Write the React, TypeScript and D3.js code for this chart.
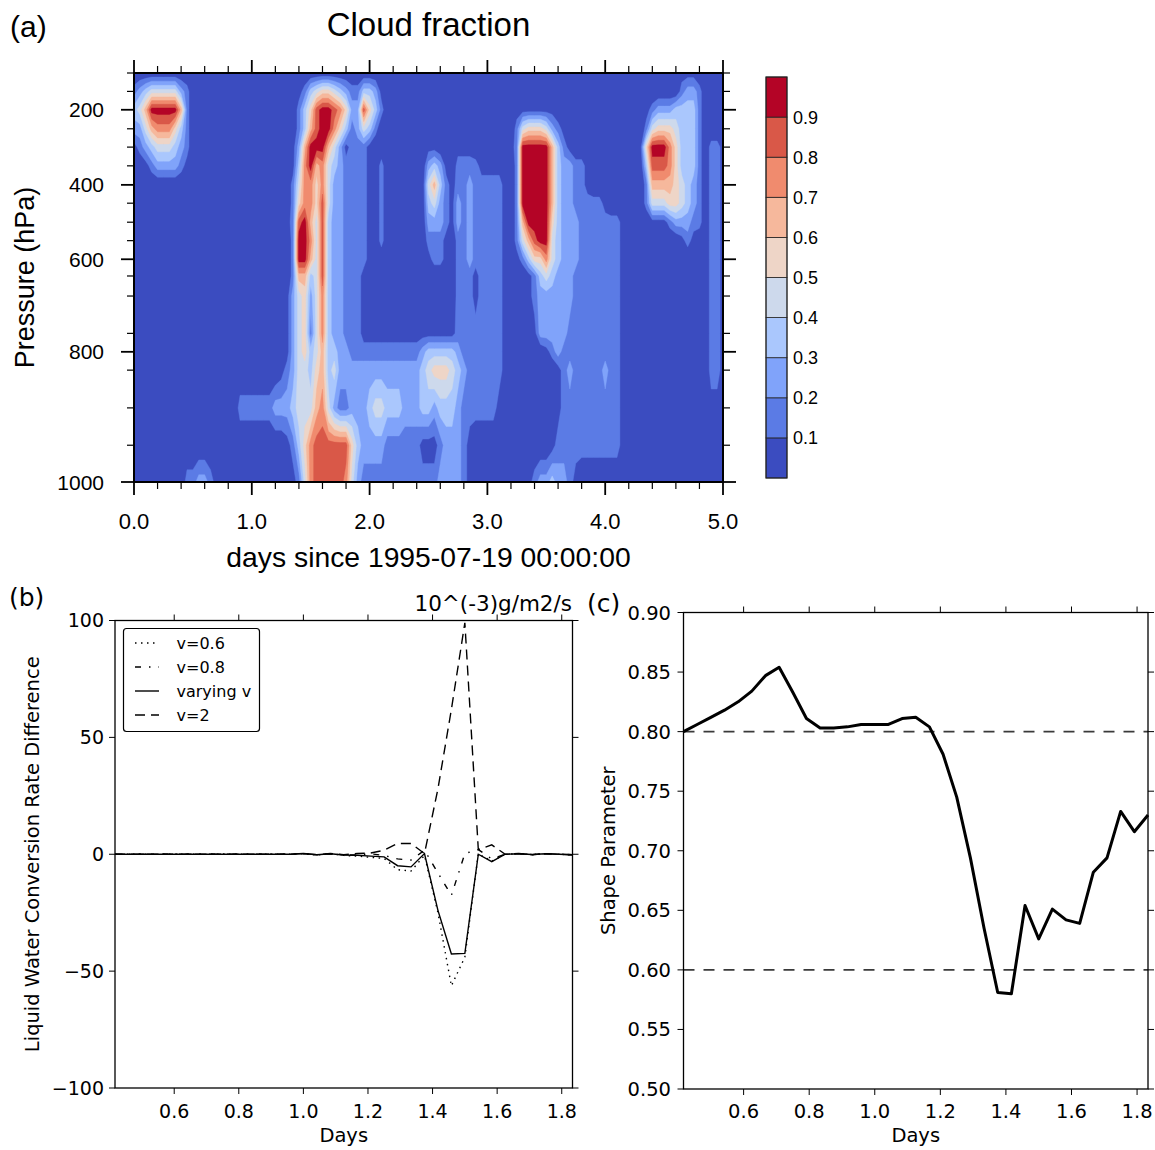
import React from "react";
import * as d3 from "d3";

// ================= Panel (a): cloud fraction contour data =================
const pressureLevels = [100, 150, 200, 250, 300, 350, 400, 450, 500, 550, 600, 650, 700, 750, 800, 850, 900, 950, 1000];
// relative position of each pressure level along the (model-level) vertical axis: 0 = top, 1 = bottom
const pressureAxisFraction = [0, 0.045, 0.0899, 0.1364, 0.1812, 0.227, 0.2735, 0.3183, 0.3648, 0.4099, 0.4554, 0.4963, 0.5453, 0.6366, 0.6817, 0.7265, 0.8188, 0.9101, 1];
const pressureMajorTicks = [200, 400, 600, 800, 1000];
const dayMajorTicks = [0, 1, 2, 3, 4, 5];
const dayMinorTicks = [0.2, 0.4, 0.6, 0.8, 1.2, 1.4, 1.6, 1.8, 2.2, 2.4, 2.6, 2.8, 3.2, 3.4, 3.6, 3.8, 4.2, 4.4, 4.6, 4.8];
const gridStartDay = 0;
const gridStepDay = 0.05;
// one row per pressure level (top = 100 hPa), one char per 0.05 day; '.' = 0, digit d = d/10 + 0.05
const cloudRows = [
  ".......... .......... .......... .......... .......... .......... .......... .......... .......... ...000.... .",
  "1234444421 .......... ........01 3455432113 320....... .......... .......... .......... .......... ...1221... .",
  "3469999961 .......... ........13 5899875228 531....... .......... .....00000 00........ .......012 2233331... .",
  "2246777531 .......... ........13 6899753124 31........ .......... .....14555 4210...... .......145 5543331... .",
  "0123444321 .......... .......026 9996420111 0......... 00...000.. ....019999 96310..... ......0599 9753331.11 0",
  "..01222210 .......... .......037 9674321111 0.1....... 2320.11110 000..19999 96322110.. .......388 8753331.11 0",
  ".......... .......... .......147 7574221111 0.1....... 4631011211 1110.19999 96322110.. .......166 6654321.11 0",
  ".......... .......... .......157 7584221111 0.1....... 3421021211 1110.19999 9632211111 0......144 4554321.11 0",
  ".......... .......... ......0189 6483221111 0.1....... 2221021211 1110.16999 9532221111 1110....00 0122211.11 0",
  ".......... .......... .......199 7483221111 0.1....... 1110.11211 1110.14689 9432221111 1110...... ...010..11 0",
  ".......... .......... .......199 6483221111 0......... 0110.11211 1110.01355 7432221111 1110...... ........11 0",
  ".......... .......... .......166 3483221110 .......... .....11101 1110...013 4322211111 1110...... ........11 0",
  ".......... .......... ......0245 2473221110 .......... .....11101 1110...012 2222211111 1110...... ........11 0",
  ".......... .......... ......0245 1473221110 0000000000 0000011111 1110...002 2222111111 1110...... ........11 0",
  ".......... .......... ......0245 3463322111 1111111112 3333321111 1110...... 0121111111 1110...... ........11 0",
  ".......... .......... .....01244 3563422222 2222222223 4555432111 1110...... ..01211111 2110...... ........11 0",
  ".......... ........11 1111222344 4674211222 3443332223 3233321111 110....... ..01111111 1110...... ........00 .",
  ".......... .......... ......0135 7888888532 2221111110 00122210.. .......... .011111111 1110...... .......... .",
  ".........1 12210..... .......014 7888887421 1111111111 11222210.. .......012 232210.... .......... .......... .",
];
const cloudLevels = [0.1, 0.2, 0.3, 0.4, 0.5, 0.6, 0.7, 0.8, 0.9];
const cloudColors = ["#3b4cc0", "#5b7be5", "#80a3fa", "#aac7fd", "#cdd9ec", "#eed5c7", "#f6b89c", "#f08b6e", "#d95848", "#b40426"];
const cloudLevelLabels = ["0.1", "0.2", "0.3", "0.4", "0.5", "0.6", "0.7", "0.8", "0.9"];

// ================= Panel (b): conversion rate difference =================
const hoursB = [10, 11, 12, 13, 14, 15, 16, 17, 18, 19, 20, 21, 22, 23, 24, 25, 26, 27, 28, 29, 30, 31, 32, 33, 34, 35, 36, 37, 38, 39, 40, 41, 42, 43, 44];
const rateV06 = [0, 0, 0, 0, 0, 0, 0, 0, 0, 0, 0, 0, 0, 0, 0.2, -0.3, 0.3, -0.5, -0.8, -1.3, -1.8, -6.6, -7.2, -0.5, -25, -56.3, -44, 0.2, -3, 0, 0.3, -0.2, 0.2, 0, -0.3];
const rateV08 = [0, 0, 0, 0, 0, 0, 0, 0, 0, 0, 0, 0, 0, 0, 0.2, -0.2, 0.2, -0.3, -0.3, 0.2, -0.5, -2, -2.5, 1.7, -8, -17.6, 0.3, 2, -2, 0, 0.2, -0.1, 0.2, 0, -0.2];
const rateVarying = [0, 0, 0, 0, 0, 0, 0, 0, 0, 0, 0, 0, 0, 0, 0.3, -0.2, 0.2, -0.3, -0.4, -0.8, -1.1, -4.9, -5.4, 0.3, -24, -42.7, -42.4, 0, -3.2, 0, 0.2, -0.1, 0.2, 0, -0.2];
const rateV2 = [0, 0, 0, 0, 0, 0, 0, 0, 0, 0, 0, 0, 0, 0, 0.3, -0.2, 0.3, -0.2, 0.3, 0.5, 1.7, 4.6, 4.6, 0.3, 28, 62, 99, 2, 4, 0, 0.3, -0.2, 0.3, 0, -0.2];
const rateTicks = [-100, -50, 0, 50, 100];
const rateTickLabels = ["\u2212100", "\u221250", "0", "50", "100"];
const daysTicks = [0.6, 0.8, 1.0, 1.2, 1.4, 1.6, 1.8];
const legendLabels = ["v=0.6", "v=0.8", "varying v", "v=2"];

// ================= Panel (c): shape parameter =================
const shapeParam = [0.8, 0.806, 0.812, 0.818, 0.825, 0.834, 0.847, 0.854, 0.833, 0.811, 0.803, 0.803, 0.804, 0.806, 0.806, 0.806, 0.811, 0.812, 0.804, 0.781, 0.745, 0.694, 0.635, 0.581, 0.58, 0.654, 0.626, 0.651, 0.642, 0.639, 0.682, 0.694, 0.733, 0.716, 0.73];
const shapeRefLines = [0.8, 0.6];
const shapeTicks = [0.5, 0.55, 0.6, 0.65, 0.7, 0.75, 0.8, 0.85, 0.9];

const NCL_FONT = "'Liberation Sans', Arial, Helvetica, sans-serif";
const MPL_FONT = "'DejaVu Sans', Verdana, sans-serif";

const codeToValue = (c: string) => (c === "." ? 0 : Number(c) / 10 + 0.05);

function PanelA() {
  const L = 134, R = 723, T = 73, B = 482;
  const rows = cloudRows.map((r) => r.replace(/\s+/g, ""));
  const nRows = rows.length;
  const nCols = d3.max(rows, (r) => r.length) as number;
  const values: number[] = [];
  rows.forEach((r) => {
    for (let i = 0; i < nCols; i++) values.push(codeToValue(r[i] || "."));
  });
  const x = d3.scaleLinear().domain([0, 5]).range([L, R]);
  const y = d3.scaleLinear().domain(pressureLevels).range(pressureAxisFraction.map((f) => T + f * (B - T)));
  const rowToP = d3.scaleLinear().domain(d3.range(nRows)).range(pressureLevels);
  const clamp = (v: number, lo: number, hi: number) => Math.max(lo, Math.min(hi, v));
  const proj = d3.geoTransform({
    point(px: number, py: number) {
      const c = clamp(px - 0.5, 0, nCols - 1);
      const r = clamp(py - 0.5, 0, nRows - 1);
      (this as any).stream.point(x(gridStartDay + c * gridStepDay), y(rowToP(r)));
    },
  });
  const path = d3.geoPath(proj as any);
  const bands = d3.contours().size([nCols, nRows]).thresholds(cloudLevels)(values);

  // colorbar
  const cbX = 766, cbW = 21, cbT = 77, cbB = 478;
  const cbH = (cbB - cbT) / cloudColors.length;

  return (
    <g fontFamily={NCL_FONT}>
      <defs>
        <clipPath id="clipA">
          <rect x={L} y={T} width={R - L} height={B - T} />
        </clipPath>
      </defs>
      <text x={10} y={37} fontSize={30}>(a)</text>
      <text x={(L + R) / 2} y={36} fontSize={33} textAnchor="middle">Cloud fraction</text>
      <g clipPath="url(#clipA)">
        <rect x={L} y={T} width={R - L} height={B - T} fill={cloudColors[0]} />
        {bands.map((b, i) => (
          <path key={i} d={path(b as any) || ""} fill={cloudColors[i + 1]} stroke={cloudColors[i + 1]} strokeWidth={0.4} />
        ))}
      </g>
      <rect x={L} y={T} width={R - L} height={B - T} fill="none" stroke="#000" strokeWidth={2} />
      {/* x ticks */}
      {dayMajorTicks.map((d) => (
        <g key={"xm" + d}>
          <line x1={x(d)} x2={x(d)} y1={B} y2={B + 13} stroke="#000" strokeWidth={1.8} />
          <line x1={x(d)} x2={x(d)} y1={T} y2={T - 13} stroke="#000" strokeWidth={1.8} />
          <text x={x(d)} y={528.5} fontSize={22} textAnchor="middle">{d3.format(".1f")(d)}</text>
        </g>
      ))}
      {dayMinorTicks.map((d) => (
        <g key={"xn" + d}>
          <line x1={x(d)} x2={x(d)} y1={B} y2={B + 7} stroke="#000" strokeWidth={1.2} />
          <line x1={x(d)} x2={x(d)} y1={T} y2={T - 7} stroke="#000" strokeWidth={1.2} />
        </g>
      ))}
      {/* y ticks */}
      {pressureLevels.map((p) => {
        const major = pressureMajorTicks.includes(p);
        const len = major ? 13 : 7;
        return (
          <g key={"y" + p}>
            <line x1={L} x2={L - len} y1={y(p)} y2={y(p)} stroke="#000" strokeWidth={major ? 1.8 : 1.2} />
            <line x1={R} x2={R + len} y1={y(p)} y2={y(p)} stroke="#000" strokeWidth={major ? 1.8 : 1.2} />
            {major && (
              <text x={104} y={y(p)} dy="0.36em" fontSize={21} textAnchor="end">{p}</text>
            )}
          </g>
        );
      })}
      <text transform={`translate(34,${(T + B) / 2}) rotate(-90)`} fontSize={27} textAnchor="middle">Pressure (hPa)</text>
      <text x={(L + R) / 2} y={567} fontSize={28.3} textAnchor="middle">days since 1995-07-19 00:00:00</text>
      {/* colorbar */}
      {cloudColors.map((c, i) => (
        <rect key={"cb" + i} x={cbX} y={cbB - (i + 1) * cbH} width={cbW} height={cbH} fill={c} stroke="#222" strokeWidth={0.8} />
      ))}
      <rect x={cbX} y={cbT} width={cbW} height={cbB - cbT} fill="none" stroke="#222" strokeWidth={1} />
      {cloudLevelLabels.map((lab, j) => (
        <text key={"cbl" + j} x={793} y={cbB - (j + 1) * cbH} dy="0.36em" fontSize={18}>{lab}</text>
      ))}
    </g>
  );
}

function PanelB() {
  const L = 115, R = 572.5, T = 620.5, B = 1088;
  const x = d3.scaleLinear().domain([hoursB[0] / 24, hoursB[hoursB.length - 1] / 24]).range([L, R]);
  const y = d3.scaleLinear().domain([-100, 100]).range([B, T]);
  const line = d3.line<number>().x((_, i) => x(hoursB[i] / 24)).y((d) => y(d));
  const styles = [
    { data: rateV06, dash: "1.5,4.5", w: 1.4 },
    { data: rateV08, dash: "6,8,1.5,8", w: 1.4 },
    { data: rateVarying, dash: "", w: 1.4 },
    { data: rateV2, dash: "10,6", w: 1.4 },
  ];
  const legX = 123.5, legY = 628.5, legW = 136, legH = 103;
  return (
    <g fontFamily={MPL_FONT}>
      <defs>
        <clipPath id="clipB">
          <rect x={L} y={T - 1} width={R - L} height={B - T + 2} />
        </clipPath>
      </defs>
      <text x={9} y={606} fontSize={25}>(b)</text>
      <text x={572} y={611} fontSize={21.5} textAnchor="end">10^(-3)g/m2/s</text>
      <g clipPath="url(#clipB)">
        {styles.map((s, i) => (
          <path key={i} d={line(s.data) || ""} fill="none" stroke="#000" strokeWidth={s.w} strokeDasharray={s.dash || undefined} />
        ))}
      </g>
      <rect x={L} y={T} width={R - L} height={B - T} fill="none" stroke="#000" strokeWidth={1.3} />
      {daysTicks.map((d) => (
        <g key={"bx" + d}>
          <line x1={x(d)} x2={x(d)} y1={B} y2={B + 6} stroke="#000" strokeWidth={1} />
          <line x1={x(d)} x2={x(d)} y1={T} y2={T - 6} stroke="#000" strokeWidth={1} />
          <text x={x(d)} y={1118} fontSize={19} textAnchor="middle">{d3.format(".1f")(d)}</text>
        </g>
      ))}
      {rateTicks.map((v, i) => (
        <g key={"by" + v}>
          <line x1={L} x2={L - 6} y1={y(v)} y2={y(v)} stroke="#000" strokeWidth={1} />
          <line x1={R} x2={R + 6} y1={y(v)} y2={y(v)} stroke="#000" strokeWidth={1} />
          <text x={104} y={y(v)} dy="0.36em" fontSize={19} textAnchor="end">{rateTickLabels[i]}</text>
        </g>
      ))}
      <text x={(L + R) / 2} y={1142} fontSize={19.5} textAnchor="middle">Days</text>
      <text transform={`translate(39,${(T + B) / 2}) rotate(-90)`} fontSize={19.5} textAnchor="middle">Liquid Water Conversion Rate Difference</text>
      {/* legend */}
      <rect x={legX} y={legY} width={legW} height={legH} rx={3} fill="#fff" stroke="#000" strokeWidth={1.2} />
      {legendLabels.map((lab, i) => {
        const ly = 643 + i * 24;
        return (
          <g key={"leg" + i}>
            <line x1={135} x2={159} y1={ly} y2={ly} stroke="#000" strokeWidth={1.4} strokeDasharray={styles[i].dash || undefined} />
            <text x={176.5} y={ly} dy="0.36em" fontSize={16}>{lab}</text>
          </g>
        );
      })}
    </g>
  );
}

function PanelC() {
  const L = 683.5, R = 1148, T = 612.5, B = 1089;
  const x = d3.scaleLinear().domain([hoursB[0] / 24, hoursB[hoursB.length - 1] / 24]).range([L, R]);
  const y = d3.scaleLinear().domain([0.5, 0.9]).range([B, T]);
  const line = d3.line<number>().x((_, i) => x(hoursB[i] / 24)).y((d) => y(d));
  return (
    <g fontFamily={MPL_FONT}>
      <text x={587} y={612} fontSize={25}>(c)</text>
      {shapeRefLines.map((v) => (
        <line key={"ref" + v} x1={L} x2={R} y1={y(v)} y2={y(v)} stroke="#3a3a3a" strokeWidth={1.7} strokeDasharray="11,9" />
      ))}
      <path d={line(shapeParam) || ""} fill="none" stroke="#000" strokeWidth={3} strokeLinejoin="round" />
      <rect x={L} y={T} width={R - L} height={B - T} fill="none" stroke="#000" strokeWidth={1.3} />
      {daysTicks.map((d) => (
        <g key={"cx" + d}>
          <line x1={x(d)} x2={x(d)} y1={B} y2={B + 6} stroke="#000" strokeWidth={1} />
          <line x1={x(d)} x2={x(d)} y1={T} y2={T - 6} stroke="#000" strokeWidth={1} />
          <text x={x(d)} y={1118} fontSize={19.5} textAnchor="middle">{d3.format(".1f")(d)}</text>
        </g>
      ))}
      {shapeTicks.map((v) => (
        <g key={"cy" + v}>
          <line x1={L} x2={L - 6} y1={y(v)} y2={y(v)} stroke="#000" strokeWidth={1} />
          <line x1={R} x2={R + 6} y1={y(v)} y2={y(v)} stroke="#000" strokeWidth={1} />
          <text x={671} y={y(v)} dy="0.36em" fontSize={19.5} textAnchor="end">{d3.format(".2f")(v)}</text>
        </g>
      ))}
      <text x={(L + R) / 2} y={1142} fontSize={19.5} textAnchor="middle">Days</text>
      <text transform={`translate(615,${(T + B) / 2}) rotate(-90)`} fontSize={19.5} textAnchor="middle">Shape Parameter</text>
    </g>
  );
}

export default function App() {
  return (
    <svg width={1155} height={1150} viewBox="0 0 1155 1150" style={{ position: "absolute", left: 0, top: 0, background: "#fff" }}>
      <rect x={0} y={0} width={1155} height={1150} fill="#fff" />
      <PanelA />
      <PanelB />
      <PanelC />
    </svg>
  );
}
